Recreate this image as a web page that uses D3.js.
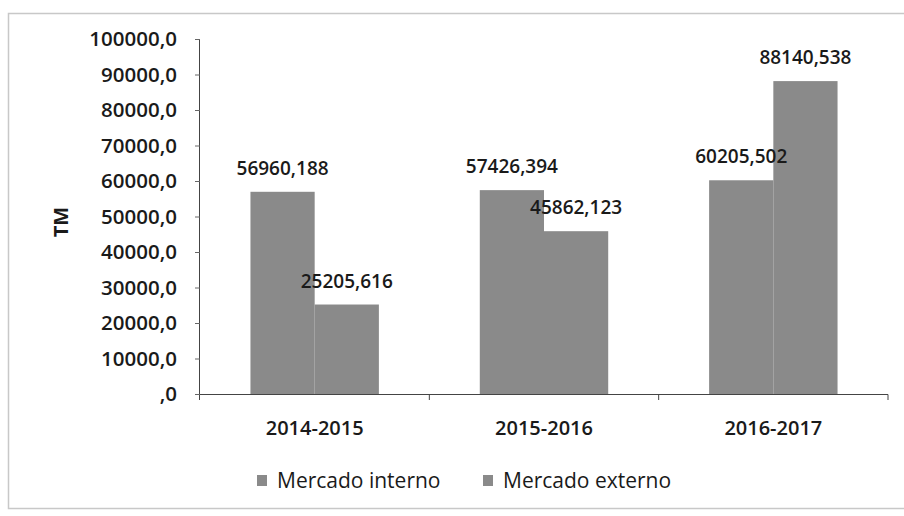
<!DOCTYPE html>
<html>
<head>
<meta charset="utf-8">
<script src="https://cdn.jsdelivr.net/npm/d3@7"></script>
<style>
  html, body { margin: 0; padding: 0; background: #fff; }
  svg, svg text { font-family: "Open Sans", sans-serif; }
  svg { display: block; }
</style>
</head>
<body>
<svg id="chart" width="904" height="516"></svg>
<script>
const categories = ["2014-2015", "2015-2016", "2016-2017"];
const seriesNames = ["Mercado interno", "Mercado externo"];
const interno = [56960.188, 57426.394, 60205.502];
const externo = [25205.616, 45862.123, 88140.538];
const internoLabels = ["56960,188", "57426,394", "60205,502"];
const externoLabels = ["25205,616", "45862,123", "88140,538"];
const yTicks = [0, 10000, 20000, 30000, 40000, 50000, 60000, 70000, 80000, 90000, 100000];

const svg = d3.select("#chart");
const barColor = "#8a8a8a";
const textColor = "#1a1a1a";

// frame
svg.append("rect").attr("x", 8.5).attr("y", 13.5).attr("width", 900).attr("height", 495)
  .attr("fill", "none").attr("stroke", "#c8c8c8").attr("stroke-width", 1.5);

const x0 = d3.scaleBand().domain(categories).range([200, 888]).paddingInner(0.44).paddingOuter(0.22);
const x1 = d3.scaleBand().domain(seriesNames).range([0, x0.bandwidth()]);
const y = d3.scaleLinear().domain([0, 100000]).range([394, 39]);

const fmt = v => (v === 0 ? "" : d3.format("d")(v)) + ",0";

// y axis
const yAxis = d3.axisLeft(y).tickValues(yTicks).tickFormat(fmt).tickSize(5).tickPadding(18);
const gy = svg.append("g").attr("transform", "translate(200,0)").call(yAxis)
  .attr("font-family", null).attr("font-size", null);
gy.select(".domain").attr("stroke", "#444").attr("d", "M-0.5,39V400");
gy.selectAll(".tick line").attr("stroke", "#666");
gy.selectAll(".tick text").attr("font-size", 20.5).attr("font-weight", 600).attr("fill", textColor);

// x axis
const xAxis = d3.axisBottom(x0).tickSize(0).tickPadding(27);
const gx = svg.append("g").attr("transform", "translate(0,394)").call(xAxis)
  .attr("font-family", null).attr("font-size", null);
gx.select(".domain").attr("stroke", "#444").attr("d", "M200,0.5H888V6");
gx.selectAll(".tick text").attr("font-size", 20).attr("font-weight", 600).attr("fill", textColor);
const bounds = [x0.step() * 1 + 200, x0.step() * 2 + 200];
gx.selectAll(".bnd").data(bounds).enter().append("line")
  .attr("x1", d => d).attr("x2", d => d).attr("y1", 0).attr("y2", 6).attr("stroke", "#444");

// y title
svg.append("text").attr("transform", "translate(68,222) rotate(-90)")
  .attr("text-anchor", "middle").attr("font-weight", "bold").attr("font-size", 20)
  .attr("fill", textColor).text("TM");

// bars
const groups = svg.append("g").selectAll("g").data(categories).enter().append("g")
  .attr("transform", d => `translate(${x0(d)},0)`);
groups.append("rect").attr("x", x1(seriesNames[0])).attr("width", x1.bandwidth())
  .attr("y", (d, i) => y(interno[i])).attr("height", (d, i) => y(0) - y(interno[i])).attr("fill", barColor);
groups.append("rect").attr("x", x1(seriesNames[1])).attr("width", x1.bandwidth())
  .attr("y", (d, i) => y(externo[i])).attr("height", (d, i) => y(0) - y(externo[i])).attr("fill", barColor);

// data labels
groups.append("text").attr("x", x1(seriesNames[0]) + x1.bandwidth() / 2)
  .attr("y", (d, i) => y(interno[i]) - 17).attr("text-anchor", "middle")
  .attr("font-size", 19).attr("font-weight", 600).attr("fill", textColor).text((d, i) => internoLabels[i]);
groups.append("text").attr("x", x1(seriesNames[1]) + x1.bandwidth() / 2)
  .attr("y", (d, i) => y(externo[i]) - 17).attr("text-anchor", "middle")
  .attr("font-size", 19).attr("font-weight", 600).attr("fill", textColor).text((d, i) => externoLabels[i]);

// legend
const legend = svg.append("g").attr("transform", "translate(257,472)");
const lx = [0, 226];
seriesNames.forEach((s, i) => {
  const g = legend.append("g").attr("transform", `translate(${lx[i]},0)`);
  g.append("rect").attr("x", 0).attr("y", 3).attr("width", 10).attr("height", 11).attr("fill", barColor);
  g.append("text").attr("x", 20).attr("y", 16).attr("font-size", 21).attr("font-weight", 500)
    .attr("fill", textColor).text(s);
});
</script>
</body>
</html>
